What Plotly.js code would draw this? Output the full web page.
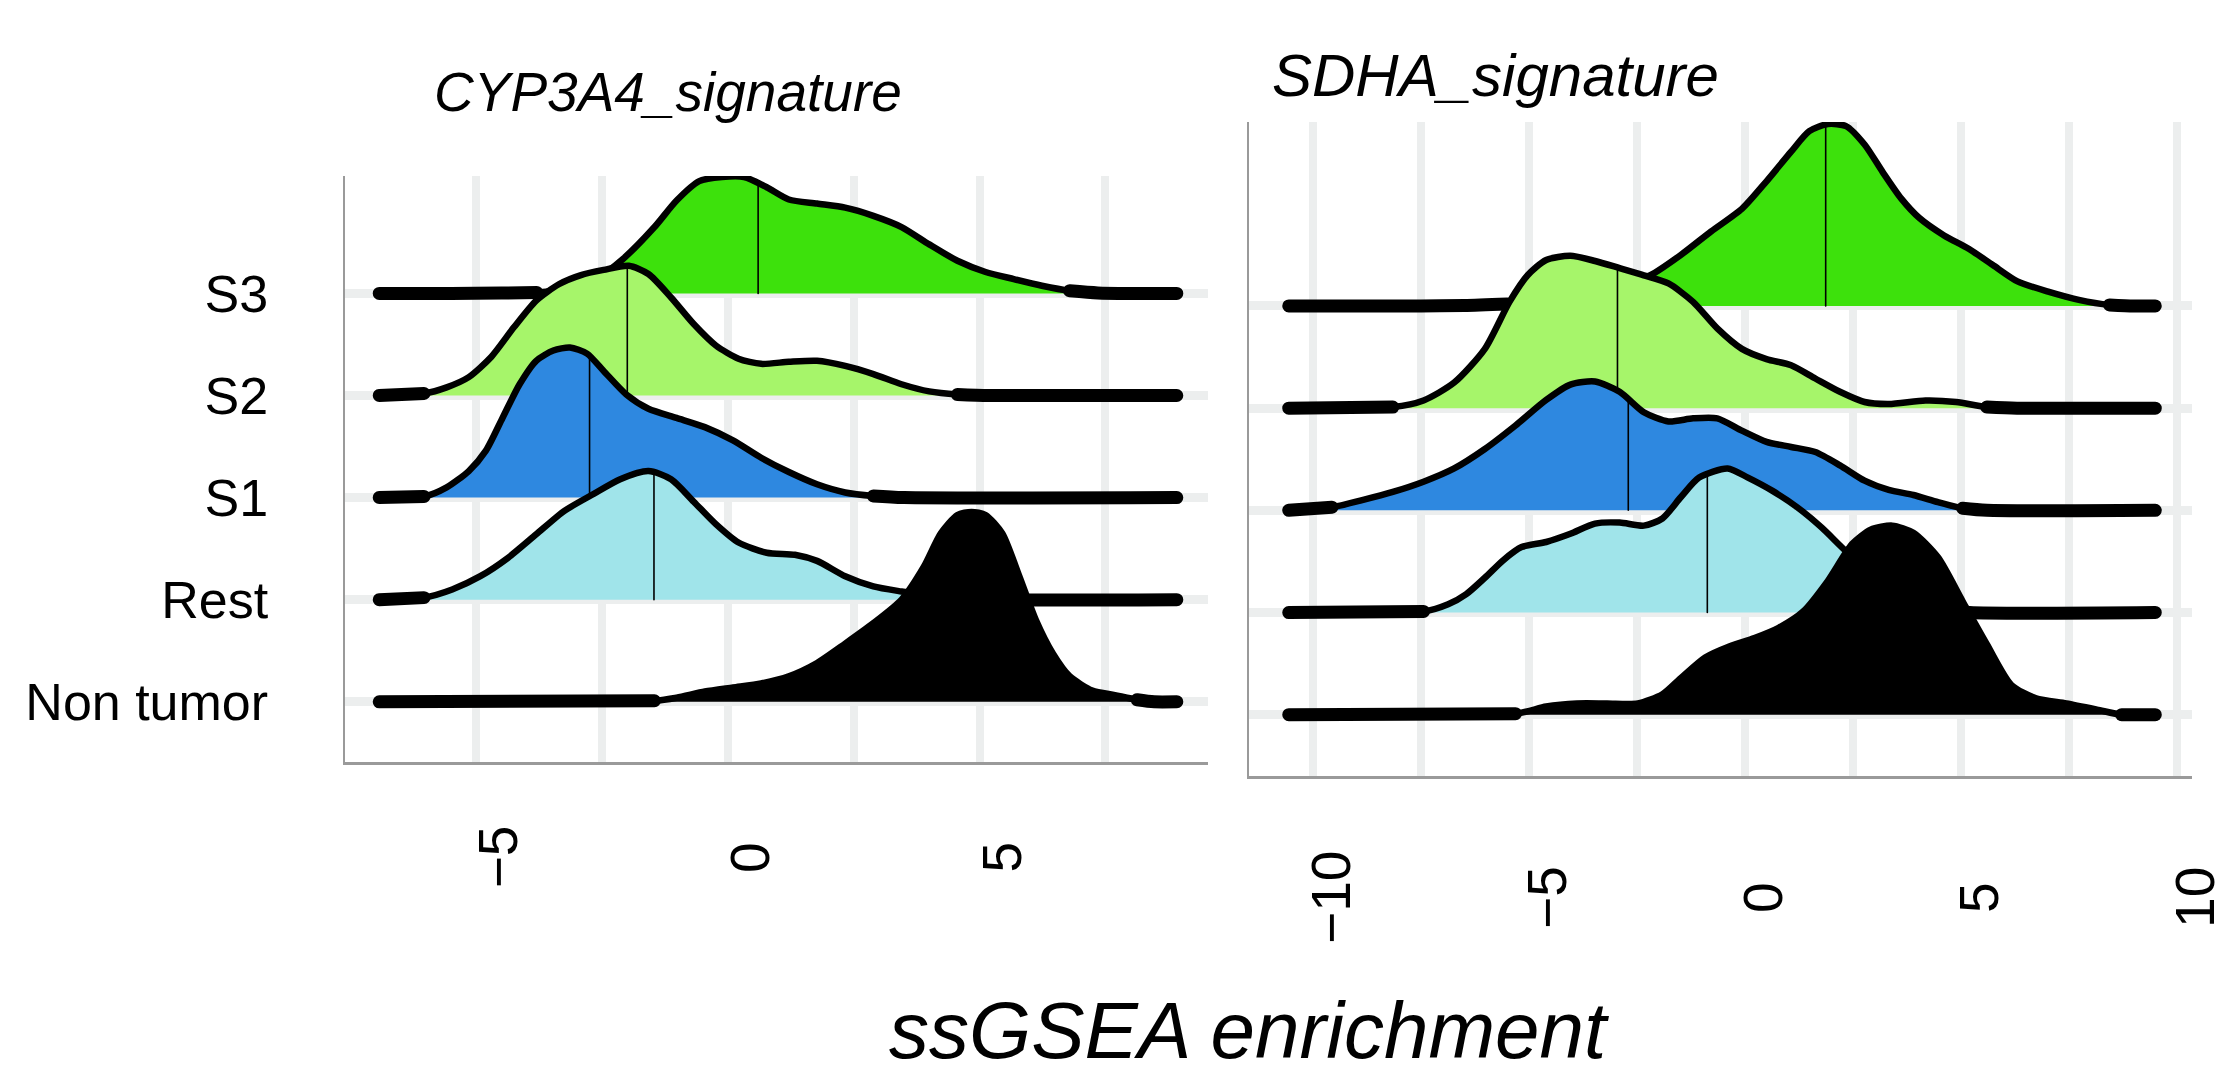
<!DOCTYPE html>
<html>
<head>
<meta charset="utf-8">
<script src="https://cdn.plot.ly/plotly-3.0.1.min.js"></script>
<style>
  html, body { margin: 0; padding: 0; background: #ffffff; }
  #chart { width: 2229px; height: 1088px; }
  /* rounded ends on the ridge strokes */
  #chart .scatterlayer path.js-line { stroke-linecap: round; }
</style>
</head>
<body>
<div id="chart"></div>
<script>
// ---- groups (bottom to top) and their colours ----
const groups = ['Non tumor', 'Rest', 'S1', 'S2', 'S3'];
const groupColors = ['#000000', '#A0E4EA', '#2E88E0', '#A6F56A', '#3DE10C'];

// ---- x ticks ----
const cypTicks = [-5, 0, 5];
const cypTickText = ['\u22125', '0', '5'];
const cypGrid = [-5, -2.5, 0, 2.5, 5, 7.5];
const sdhaTicks = [-10, -5, 0, 5, 10];
const sdhaTickText = ['\u221210', '\u22125', '0', '5', '10'];
const sdhaGrid = [-10, -7.5, -5, -2.5, 0, 2.5, 5, 7.5, 10];

// ---- CYP3A4_signature: density ridges (x, scaled height) ----
const cypS3X = [-6.93, -5.5, -4.5, -3.8, -3.2, -2.6, -2.08, -1.46, -1.02, -0.57, -0.12, 0.32, 0.77, 1.21, 1.77, 2.33, 2.89, 3.45, 4.0, 4.56, 5.12, 5.68, 6.24, 6.79, 7.35, 8.0, 8.92];
const cypS3H = [0, 0, 0.003, 0.01, 0.05, 0.15, 0.34, 0.65, 0.91, 1.10, 1.14, 1.14, 1.04, 0.92, 0.88, 0.84, 0.76, 0.65, 0.48, 0.32, 0.21, 0.14, 0.075, 0.026, 0.005, 0, 0];
const cypS2X = [-6.93, -6.04, -5.59, -5.15, -4.70, -4.25, -3.81, -3.36, -2.92, -2.47, -1.97, -1.58, -1.13, -0.68, -0.24, 0.21, 0.66, 1.21, 1.77, 2.33, 2.89, 3.45, 4.0, 4.56, 5.2, 8.92];
const cypS2H = [0, 0.02, 0.08, 0.18, 0.38, 0.67, 0.93, 1.09, 1.18, 1.23, 1.27, 1.19, 0.96, 0.70, 0.49, 0.36, 0.31, 0.33, 0.34, 0.29, 0.21, 0.11, 0.04, 0.01, 0, 0];
const cypS1X = [-6.93, -6.04, -5.59, -5.15, -4.81, -4.48, -4.14, -3.81, -3.47, -3.14, -2.80, -2.47, -2.02, -1.58, -1.02, -0.46, 0.10, 0.66, 1.21, 1.77, 2.33, 2.89, 3.5, 8.92];
const cypS1H = [0, 0.01, 0.10, 0.26, 0.46, 0.78, 1.11, 1.34, 1.44, 1.47, 1.41, 1.24, 1.01, 0.87, 0.78, 0.69, 0.56, 0.39, 0.25, 0.13, 0.05, 0.016, 0, 0];
const cypRestX = [-6.93, -6.04, -5.48, -4.92, -4.37, -3.81, -3.25, -2.69, -2.14, -1.58, -1.13, -0.68, -0.24, 0.21, 0.77, 1.33, 1.77, 2.33, 2.89, 3.45, 4.0, 4.56, 5.2, 8.92];
const cypRestH = [0, 0.02, 0.10, 0.23, 0.41, 0.64, 0.87, 1.03, 1.18, 1.26, 1.18, 0.96, 0.74, 0.56, 0.46, 0.44, 0.38, 0.23, 0.13, 0.08, 0.04, 0.016, 0, 0];
const cypNonX = [-6.93, -1.46, -1.02, -0.46, 0.10, 0.66, 1.21, 1.77, 2.33, 2.89, 3.45, 3.89, 4.23, 4.56, 4.84, 5.12, 5.45, 5.79, 6.12, 6.46, 6.79, 7.24, 7.69, 8.13, 8.47, 8.92];
const cypNonH = [0, 0.01, 0.04, 0.10, 0.14, 0.18, 0.25, 0.38, 0.57, 0.77, 1.00, 1.32, 1.65, 1.83, 1.86, 1.83, 1.65, 1.23, 0.80, 0.47, 0.25, 0.11, 0.065, 0.02, 0, 0];
// medians, bottom to top (the Non tumor one is hidden by its black fill)
const cypMedians = [null, -1.47, -2.75, -2.0, 0.6];

// ---- SDHA_signature: density ridges (x, scaled height) ----
const sdhaS3X = [-10.56, -7.5, -6.5, -5.5, -4.5, -3.5, -2.8, -2.19, -1.48, -0.78, -0.07, 0.50, 1.07, 1.49, 1.92, 2.34, 2.77, 3.19, 3.62, 4.04, 4.61, 5.18, 5.74, 6.31, 7.02, 7.73, 8.44, 9.0, 9.5];
const sdhaS3H = [0, 0, 0.005, 0.02, 0.06, 0.13, 0.21, 0.30, 0.50, 0.73, 0.95, 1.22, 1.51, 1.71, 1.78, 1.76, 1.58, 1.31, 1.05, 0.86, 0.69, 0.56, 0.40, 0.24, 0.14, 0.06, 0.01, 0, 0];
const sdhaS2X = [-10.56, -8.15, -7.44, -6.73, -6.02, -5.45, -5.03, -4.60, -4.04, -3.47, -2.90, -2.34, -1.77, -1.20, -0.64, -0.07, 0.50, 1.07, 1.63, 2.20, 2.77, 3.33, 4.18, 4.89, 5.60, 6.3, 9.5];
const sdhaS2H = [0, 0.01, 0.075, 0.25, 0.58, 1.04, 1.30, 1.45, 1.49, 1.44, 1.37, 1.30, 1.22, 1.04, 0.78, 0.58, 0.48, 0.42, 0.29, 0.16, 0.06, 0.04, 0.075, 0.06, 0.01, 0, 0];
const sdhaS1X = [-10.56, -9.56, -8.86, -8.15, -7.44, -6.73, -6.02, -5.31, -4.60, -4.04, -3.47, -2.90, -2.34, -1.77, -1.20, -0.64, -0.07, 0.50, 1.07, 1.63, 2.20, 2.77, 3.33, 3.90, 4.47, 5.04, 5.6, 9.5];
const sdhaS1H = [0, 0.03, 0.10, 0.18, 0.28, 0.41, 0.60, 0.83, 1.08, 1.23, 1.26, 1.16, 0.96, 0.87, 0.90, 0.90, 0.78, 0.67, 0.62, 0.57, 0.44, 0.29, 0.20, 0.15, 0.08, 0.02, 0, 0];
const sdhaRestX = [-10.56, -7.44, -6.87, -6.45, -6.02, -5.60, -5.17, -4.60, -4.04, -3.47, -2.90, -2.34, -1.91, -1.48, -1.06, -0.40, 0.07, 0.64, 1.21, 1.78, 2.34, 2.91, 3.48, 4.04, 4.61, 5.2, 9.5];
const sdhaRestH = [0, 0.01, 0.08, 0.18, 0.34, 0.51, 0.64, 0.69, 0.77, 0.87, 0.88, 0.85, 0.92, 1.13, 1.32, 1.41, 1.32, 1.19, 1.03, 0.83, 0.60, 0.40, 0.22, 0.09, 0.03, 0, 0];
const sdhaNonX = [-10.56, -5.31, -4.60, -3.89, -3.19, -2.48, -1.91, -1.48, -0.92, -0.35, 0.22, 0.78, 1.35, 1.92, 2.48, 2.91, 3.41, 3.90, 4.47, 5.04, 5.60, 6.17, 6.74, 7.44, 8.15, 8.72, 9.5];
const sdhaNonH = [0, 0.01, 0.08, 0.11, 0.11, 0.11, 0.20, 0.36, 0.56, 0.67, 0.75, 0.85, 1.01, 1.31, 1.67, 1.81, 1.85, 1.78, 1.54, 1.11, 0.69, 0.29, 0.16, 0.11, 0.05, 0, 0];
const sdhaMedians = [null, -0.87, -2.7, -2.95, 1.87];

const cypRidges = [[cypNonX, cypNonH], [cypRestX, cypRestH], [cypS1X, cypS1H], [cypS2X, cypS2H], [cypS3X, cypS3H]];
const sdhaRidges = [[sdhaNonX, sdhaNonH], [sdhaRestX, sdhaRestH], [sdhaS1X, sdhaS1H], [sdhaS2X, sdhaS2H], [sdhaS3X, sdhaS3H]];

// ---- page geometry ----
const W = 2229, H = 1088;
const FONT = '"Liberation Sans", Arial, Helvetica, sans-serif';
const TAIL_LEVEL = 0.03;

function heightAt(xs, hs, x) {
  for (let i = 1; i < xs.length; i++) {
    if (x <= xs[i]) {
      const t = (x - xs[i - 1]) / (xs[i] - xs[i - 1]);
      return hs[i - 1] + t * (hs[i] - hs[i - 1]);
    }
  }
  return hs[hs.length - 1];
}

function ridgeTraces(ridges, medians, xa, ya) {
  const out = [];
  // top ridge first so the lower ones overlap it
  for (let g = groups.length - 1; g >= 0; g--) {
    const [xs, hs] = ridges[g];
    const base = g;
    const common = { xaxis: xa, yaxis: ya, showlegend: false, hoverinfo: 'skip', mode: 'lines' };
    // baseline for the fill
    out.push(Object.assign({}, common, {
      x: xs, y: xs.map(() => base), line: { width: 0, color: 'rgba(0,0,0,0)' }
    }));
    // filled density with outline
    out.push(Object.assign({}, common, {
      x: xs, y: hs.map(h => base + h), fill: 'tonexty', fillcolor: groupColors[g],
      line: { color: '#000000', width: 6.5, shape: 'spline', smoothing: 0.7 }
    }));
    // heavier stroke where the density sits on its baseline
    out.push(Object.assign({}, common, {
      x: xs, y: hs.map(h => (h <= TAIL_LEVEL ? base + h : null)),
      line: { color: '#000000', width: 13, shape: 'spline', smoothing: 0.7 }
    }));
    // median line
    const m = medians[g];
    if (m !== null) {
      out.push(Object.assign({}, common, {
        x: [m, m], y: [base, base + heightAt(xs, hs, m)],
        line: { color: '#000000', width: 1.6 }
      }));
    }
  }
  return out;
}

const data = [].concat(
  ridgeTraces(cypRidges, cypMedians, 'x', 'y'),
  ridgeTraces(sdhaRidges, sdhaMedians, 'x2', 'y2')
);

const gridColor = '#ECEEEE';
const axisLine = '#9a9a9a';

function xAxis(domain, range, grid) {
  return {
    domain: domain, range: range, tickmode: 'array', tickvals: grid,
    showticklabels: false, ticks: '', showgrid: true, gridcolor: gridColor, gridwidth: 8,
    zeroline: false, showline: true, linecolor: axisLine, linewidth: 2.5, mirror: false,
    fixedrange: true
  };
}
function yAxis(domain, range, anchor, labels) {
  return {
    domain: domain, range: range, anchor: anchor, tickmode: 'array',
    tickvals: groups.map((_, i) => i), ticktext: groups,
    showticklabels: labels, ticks: labels ? 'outside' : '', ticklen: 64, tickcolor: 'rgba(0,0,0,0)',
    tickfont: { family: FONT, size: 52, color: '#000000' },
    showgrid: true, gridcolor: gridColor, gridwidth: 9,
    zeroline: false, showline: true, linecolor: axisLine, linewidth: 2.5, mirror: false,
    fixedrange: true
  };
}

const annotations = [];
cypTicks.forEach((v, i) => annotations.push({
  x: v, xref: 'x', y: 1 - 857 / H, yref: 'paper', text: cypTickText[i], showarrow: false,
  textangle: -90, xanchor: 'center', yanchor: 'middle', xshift: 22,
  font: { family: FONT, size: 55, color: '#000000' }
}));
sdhaTicks.forEach((v, i) => annotations.push({
  x: v, xref: 'x2', y: 1 - 897 / H, yref: 'paper', text: sdhaTickText[i], showarrow: false,
  textangle: -90, xanchor: 'center', yanchor: 'middle', xshift: 18,
  font: { family: FONT, size: 55, color: '#000000' }
}));
annotations.push({
  x: 668 / W, y: 1 - 92 / H, xref: 'paper', yref: 'paper', text: '<i>CYP3A4_signature</i>',
  showarrow: false, xanchor: 'center', yanchor: 'middle',
  font: { family: FONT, size: 55, color: '#000000' }
});
annotations.push({
  x: 1270 / W, y: 1 - 76 / H, xref: 'paper', yref: 'paper', text: '<i>SDHA_signature</i>',
  showarrow: false, xanchor: 'left', yanchor: 'middle',
  font: { family: FONT, size: 60, color: '#000000' }
});
annotations.push({
  x: 1249 / W, y: 1 - 1030 / H, xref: 'paper', yref: 'paper', text: '<i>ssGSEA enrichment</i>',
  showarrow: false, xanchor: 'center', yanchor: 'middle',
  font: { family: FONT, size: 80, color: '#000000' }
});

const layout = {
  width: W, height: H,
  margin: { l: 0, r: 0, t: 0, b: 0, pad: 0 },
  paper_bgcolor: '#ffffff', plot_bgcolor: 'rgba(0,0,0,0)',
  showlegend: false,
  font: { family: FONT, color: '#000000' },
  xaxis: Object.assign(xAxis([345 / W, 1208 / W], [-7.61, 9.54], cypGrid), { anchor: 'y' }),
  yaxis: yAxis([1 - 762 / H, 1 - 176 / H], [-0.59, 5.15], 'x', true),
  xaxis2: Object.assign(xAxis([1249 / W, 2192 / W], [-11.48, 10.35], sdhaGrid), { anchor: 'y2' }),
  yaxis2: yAxis([1 - 776 / H, 1 - 122 / H], [-0.60, 5.80], 'x2', false),
  annotations: annotations
};

Plotly.newPlot('chart', data, layout, { staticPlot: true, displayModeBar: false });
</script>
</body>
</html>
